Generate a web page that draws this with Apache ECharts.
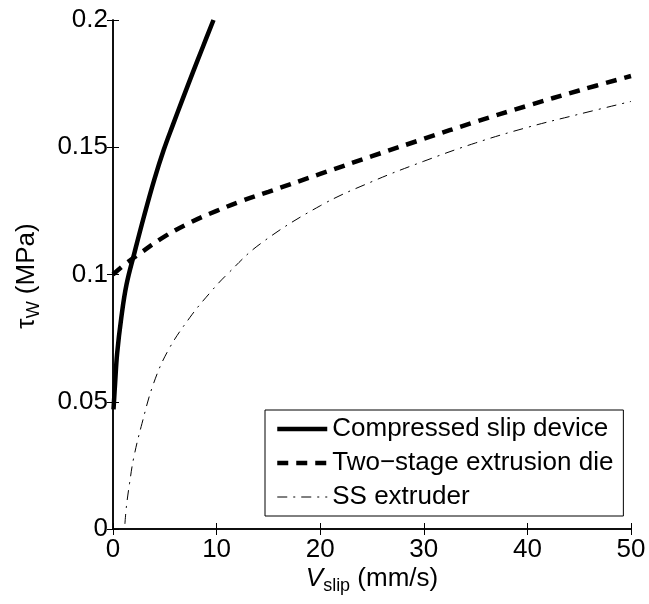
<!DOCTYPE html>
<html>
<head>
<meta charset="utf-8">
<script src="https://cdn.jsdelivr.net/npm/echarts@6/dist/echarts.min.js"></script>
<style>
html,body{margin:0;padding:0;background:#fff;}
#c{width:649px;height:604px;}
</style>
</head>
<body>
<div id="c"></div>
<script>
// Data: [V_slip (mm/s), tau_W (MPa)]
const seriesNames = ['Compressed slip device', 'Two\u2212stage extrusion die', 'SS extruder'];
const compressedSlip = [[0.05,0.047],[0.2,0.057],[0.4,0.069],[0.8,0.083],[1.3,0.096],[2.1,0.109],[3,0.123],[4,0.1375],[4.9,0.149],[5.8,0.159],[6.7,0.1687],[7.7,0.1793],[8.7,0.1897],[9.7,0.2]];
const twoStage = [[0,0.1],[1,0.1035],[2.5,0.108],[5,0.115],[7.5,0.1205],[10,0.125],[12.5,0.129],[15,0.1325],[20,0.1395],[25,0.1465],[30,0.1533],[35,0.16],[40,0.1663],[45,0.1723],[50,0.178]];
const ssExtruder = [[1.15,0.002],[1.3,0.009],[1.6,0.018],[2,0.028],[2.8,0.0415],[3.9,0.057],[5.3,0.07],[7.4,0.083],[9.4,0.093],[11,0.1],[14.2,0.112],[20,0.127],[25,0.1365],[30,0.1445],[35,0.1517],[40,0.1578],[45,0.163],[50,0.168]];
const xTicks = [0,10,20,30,40,50];
const yTicks = [0,0.05,0.1,0.15,0.2];

const FONT = 'Liberation Sans, Arial, Helvetica, sans-serif';
const chart = echarts.init(document.getElementById('c'), null, {renderer:'canvas'});

const axisLineStyle = {show:true, lineStyle:{color:'#000', width:1.5}};
const tickStyle = {show:true, inside:true, length:6, lineStyle:{color:'#000', width:1}};
const lineStyles = [
  {color:'#000', width:4.5, type:'solid'},
  {color:'#000', width:4.5, type:[11,8]},
  {color:'#000', width:1, type:[10,6,2,6]}
];

chart.setOption({
  backgroundColor:'#fff',
  animation:false,
  grid:{left:113, top:20, right:18, bottom:75, containLabel:false},
  xAxis:[
    {type:'value', min:xTicks[0], max:xTicks[xTicks.length-1], interval:xTicks[1]-xTicks[0], position:'bottom',
     axisLine:axisLineStyle, axisTick:tickStyle, splitLine:{show:false},
     axisLabel:{color:'#000', fontSize:26, fontFamily:FONT, margin:8}},
    {type:'value', min:xTicks[0], max:xTicks[xTicks.length-1], interval:xTicks[1]-xTicks[0], position:'top',
     axisLine:axisLineStyle, axisTick:tickStyle, splitLine:{show:false}, axisLabel:{show:false}}
  ],
  yAxis:[
    {type:'value', min:yTicks[0], max:yTicks[yTicks.length-1], interval:yTicks[1]-yTicks[0], position:'left',
     axisLine:axisLineStyle, axisTick:tickStyle, splitLine:{show:false},
     axisLabel:{color:'#000', fontSize:26, fontFamily:FONT, margin:5}},
    {type:'value', min:yTicks[0], max:yTicks[yTicks.length-1], interval:yTicks[1]-yTicks[0], position:'right',
     axisLine:axisLineStyle, axisTick:tickStyle, splitLine:{show:false}, axisLabel:{show:false}}
  ],
  legend:{
    orient:'vertical', left:265, top:410,
    itemWidth:50, itemHeight:26, itemGap:8,
    padding:[6,10,6,10],
    borderColor:'#000', borderWidth:1, backgroundColor:'#fff',
    textStyle:{color:'#000', fontSize:26, fontFamily:FONT},
    data:seriesNames.map((n,i)=>({name:n, lineStyle:lineStyles[i], itemStyle:{opacity:0}}))
  },
  series:[
    {name:seriesNames[0], type:'line', data:compressedSlip, smooth:0.4, symbol:'none', showSymbol:false,
     lineStyle:lineStyles[0], itemStyle:{color:'#000'}},
    {name:seriesNames[1], type:'line', data:twoStage, smooth:0.4, symbol:'none', showSymbol:false,
     lineStyle:lineStyles[1], itemStyle:{color:'#000'}},
    {name:seriesNames[2], type:'line', data:ssExtruder, smooth:0.4, symbol:'none', showSymbol:false,
     lineStyle:lineStyles[2], itemStyle:{color:'#000'}}
  ],
  graphic:[
    {type:'text', x:27, y:276, rotation:Math.PI/2,
     style:{text:'{t|\u03c4}{s|W}{t| (MPa)}', align:'center', verticalAlign:'middle', fill:'#000',
       rich:{t:{fontSize:26, fontFamily:FONT, fill:'#000', lineHeight:32, verticalAlign:'middle'},
             s:{fontSize:18, fontFamily:FONT, fill:'#000', lineHeight:32, padding:[13,0,0,0], verticalAlign:'bottom'}}}},
    {type:'text', x:372, y:579,
     style:{text:'{v|V}{s|slip}{t| (mm/s)}', align:'center', verticalAlign:'middle', fill:'#000',
       rich:{v:{fontSize:26, fontFamily:FONT, fontStyle:'italic', fill:'#000', lineHeight:32},
             t:{fontSize:26, fontFamily:FONT, fill:'#000', lineHeight:32},
             s:{fontSize:18, fontFamily:FONT, fill:'#000', lineHeight:32, padding:[14,0,0,0]}}}}
  ]
});
</script>
</body>
</html>
